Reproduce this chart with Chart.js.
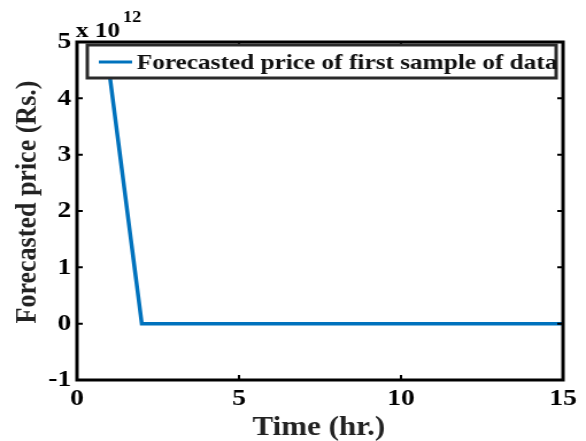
<!DOCTYPE html>
<html>
<head>
<meta charset="utf-8">
<script src="https://cdn.jsdelivr.net/npm/chart.js@4.4.1/dist/chart.umd.min.js"></script>
<style>
  html, body { margin: 0; padding: 0; background: #fff; overflow: hidden; }
  #wrap { width: 510px; height: 441px; transform: scaleX(1.149); transform-origin: 0 0; }
</style>
</head>
<body>
<div id="wrap"><canvas id="priceChart" width="510" height="441"></canvas></div>
<script>
// Forecasted price of first sample (values in Rs.)
const timeHours = [1, 2, 3, 4, 5, 6, 7, 8, 9, 10, 11, 12, 13, 14, 15];
const forecastPrice = [4.45e12, 0, 0, 0, 0, 0, 0, 0, 0, 0, 0, 0, 0, 0, 0];
const xTickValues = [0, 5, 10, 15];
const yTickValues = [-1e12, 0, 1e12, 2e12, 3e12, 4e12, 5e12];
const seriesLabel = 'Forecasted price of first sample of data';

const SERIF = "'Liberation Serif', 'Times New Roman', serif";
const lineBlue = '#0072BD';

// box around the axes with inward ticks on all sides (matlab look)
const framePlugin = {
    id: 'frame',
    afterDatasetsDraw(chart) {
        const ctx = chart.ctx;
        const a = chart.chartArea;
        const xs = chart.scales.x, ys = chart.scales.y;
        ctx.save();
        ctx.strokeStyle = '#000';
        ctx.lineWidth = 3;
        ctx.strokeRect(a.left, a.top, a.right - a.left, a.bottom - a.top);
        ctx.lineWidth = 2;
        ctx.beginPath();
        xTickValues.forEach(v => {
            const px = xs.getPixelForValue(v);
            ctx.moveTo(px, a.bottom); ctx.lineTo(px, a.bottom - 5);
            ctx.moveTo(px, a.top); ctx.lineTo(px, a.top + 5);
        });
        yTickValues.forEach(v => {
            const py = ys.getPixelForValue(v);
            ctx.moveTo(a.left, py); ctx.lineTo(a.left + 5, py);
            ctx.moveTo(a.right, py); ctx.lineTo(a.right - 5, py);
        });
        ctx.stroke();
        ctx.restore();
    }
};

// legend box inside the axes, axis titles and exponent label
const textPlugin = {
    id: 'texts',
    afterDraw(chart) {
        const ctx = chart.ctx;
        const a = chart.chartArea;
        ctx.save();

        // legend
        const lx = 76, ly = 45, lw = 408, lh = 33;
        ctx.fillStyle = '#fff';
        ctx.fillRect(lx, ly, lw, lh);
        ctx.strokeStyle = '#2a2a2a';
        ctx.lineWidth = 3;
        ctx.strokeRect(lx, ly, lw, lh);
        ctx.strokeStyle = lineBlue;
        ctx.lineWidth = 3;
        ctx.beginPath();
        ctx.moveTo(86, 62); ctx.lineTo(115, 62);
        ctx.stroke();
        ctx.fillStyle = '#111';
        ctx.font = 'bold 22px ' + SERIF;
        ctx.textAlign = 'left';
        ctx.textBaseline = 'alphabetic';
        ctx.fillText(chart.data.datasets[0].label, 119, 69);

        // exponent
        ctx.fillStyle = '#000';
        ctx.font = 'bold 22px ' + SERIF;
        ctx.fillText('x 10', 66, 37);
        ctx.font = 'bold 16px ' + SERIF;
        ctx.fillText('12', 107, 22);

        // x title
        ctx.font = 'bold 27px ' + SERIF;
        ctx.fillStyle = '#222';
        ctx.textAlign = 'center';
        ctx.fillText('Time (hr.)', (a.left + a.right) / 2 - 1, 435);

        // y title
        ctx.font = 'bold 26px ' + SERIF;
        ctx.translate(24, 202);
        ctx.rotate(-Math.PI / 2);
        ctx.textBaseline = 'middle';
        ctx.fillText('Forecasted price (Rs.)', 0, 0);
        ctx.restore();
    }
};

new Chart(document.getElementById('priceChart'), {
    type: 'line',
    data: {
        datasets: [{
            label: seriesLabel,
            data: timeHours.map((t, i) => ({ x: t, y: forecastPrice[i] })),
            borderColor: lineBlue,
            borderWidth: 3.5,
            pointRadius: 0,
            tension: 0,
            fill: false
        }]
    },
    options: {
        responsive: false,
        animation: false,
        events: [],
        layout: { padding: { top: 42, right: 20, left: 0, bottom: 0 } },
        plugins: {
            legend: { display: false },
            tooltip: { enabled: false }
        },
        scales: {
            x: {
                type: 'linear',
                min: 0,
                max: 15,
                afterBuildTicks: s => { s.ticks = xTickValues.map(v => ({ value: v })); },
                afterFit: s => { s.height = 61; },
                grid: { display: false, drawTicks: false },
                border: { display: false },
                ticks: {
                    padding: 4,
                    maxRotation: 0,
                    color: '#000',
                    font: { family: SERIF, size: 24, weight: 'bold' },
                    callback: v => String(v)
                }
            },
            y: {
                type: 'linear',
                min: -1e12,
                max: 5e12,
                afterBuildTicks: s => { s.ticks = yTickValues.map(v => ({ value: v })); },
                afterFit: s => { s.width = 67; },
                grid: { display: false, drawTicks: false },
                border: { display: false },
                ticks: {
                    padding: 5,
                    color: '#000',
                    font: { family: SERIF, size: 24, weight: 'bold' },
                    callback: v => String(Math.round(v / 1e12))
                }
            }
        }
    },
    plugins: [framePlugin, textPlugin]
});
</script>
</body>
</html>
